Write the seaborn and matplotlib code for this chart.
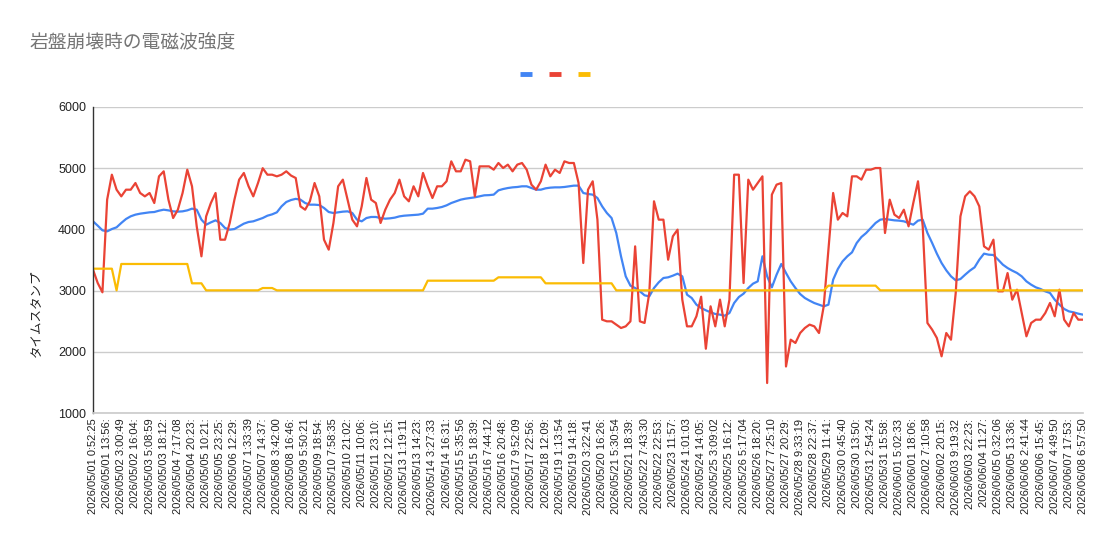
import numpy as np
import pandas as pd
import matplotlib
matplotlib.use("Agg")
import matplotlib.pyplot as plt
from matplotlib.lines import Line2D
import seaborn as sns

title = "岩盤崩壊時の電磁波強度"
y_label = "タイムスタンプ"

tick_labels = [
    "2026/05/01 0:52:25", "2026/05/01 13:56:", "2026/05/02 3:00:49", "2026/05/02 16:04:",
    "2026/05/03 5:08:59", "2026/05/03 18:12:", "2026/05/04 7:17:08", "2026/05/04 20:23:",
    "2026/05/05 10:21:", "2026/05/05 23:25:", "2026/05/06 12:29:", "2026/05/07 1:33:39",
    "2026/05/07 14:37:", "2026/05/08 3:42:00", "2026/05/08 16:46:", "2026/05/09 5:50:21",
    "2026/05/09 18:54:", "2026/05/10 7:58:35", "2026/05/10 21:02:", "2026/05/11 10:06:",
    "2026/05/11 23:10:", "2026/05/12 12:15:", "2026/05/13 1:19:11", "2026/05/13 14:23:",
    "2026/05/14 3:27:33", "2026/05/14 16:31:", "2026/05/15 5:35:56", "2026/05/15 18:39:",
    "2026/05/16 7:44:12", "2026/05/16 20:48:", "2026/05/17 9:52:09", "2026/05/17 22:56:",
    "2026/05/18 12:09:", "2026/05/19 1:13:54", "2026/05/19 14:18:", "2026/05/20 3:22:41",
    "2026/05/20 16:26:", "2026/05/21 5:30:54", "2026/05/21 18:39:", "2026/05/22 7:43:30",
    "2026/05/22 22:53:", "2026/05/23 11:57:", "2026/05/24 1:01:03", "2026/05/24 14:05:",
    "2026/05/25 3:09:02", "2026/05/25 16:12:", "2026/05/26 5:17:04", "2026/05/26 18:20:",
    "2026/05/27 7:25:10", "2026/05/27 20:29:", "2026/05/28 9:33:19", "2026/05/28 22:37:",
    "2026/05/29 11:41:", "2026/05/30 0:45:40", "2026/05/30 13:50:", "2026/05/31 2:54:24",
    "2026/05/31 15:58:", "2026/06/01 5:02:33", "2026/06/01 18:06:", "2026/06/02 7:10:58",
    "2026/06/02 20:15:", "2026/06/03 9:19:32", "2026/06/03 22:23:", "2026/06/04 11:27:",
    "2026/06/05 0:32:06", "2026/06/05 13:36:", "2026/06/06 2:41:44", "2026/06/06 15:45:",
    "2026/06/07 4:49:50", "2026/06/07 17:53:", "2026/06/08 6:57:50",
]

blue_values = [
    4132, 4061, 3985, 3968, 4006, 4034, 4105, 4170, 4214, 4241, 4257, 4268, 4279, 4284, 4306,
    4322, 4311, 4295, 4290, 4295, 4311, 4339, 4322, 4159, 4077, 4115, 4148, 4105, 4023, 3996,
    4006, 4050, 4094, 4121, 4132, 4159, 4186, 4224, 4246, 4279, 4377, 4448, 4480, 4499, 4486,
    4431, 4404, 4404, 4398, 4350, 4284, 4268, 4279, 4290, 4295, 4268, 4159, 4132, 4186, 4203,
    4203, 4186, 4175, 4181, 4192, 4213, 4224, 4230, 4235, 4241, 4257, 4339, 4339, 4350, 4366,
    4393, 4431, 4459, 4486, 4502, 4513, 4524, 4540, 4557, 4560, 4568, 4638, 4660, 4676, 4687,
    4693, 4704, 4704, 4676, 4649, 4649, 4671, 4682, 4687, 4687, 4693, 4704, 4715, 4715, 4595,
    4578, 4568, 4513, 4377, 4268, 4186, 3941, 3560, 3233, 3081, 3042, 2988, 2923, 2906, 3042,
    3135, 3206, 3217, 3244, 3277, 3233, 2934, 2879, 2770, 2716, 2678, 2645, 2618, 2607, 2590,
    2634, 2797, 2895, 2950, 3042, 3113, 3151, 3560, 3233, 3053, 3260, 3435, 3288, 3151, 3042,
    2944, 2879, 2836, 2797, 2770, 2743, 2770, 3178, 3353, 3478, 3560, 3625, 3778, 3876, 3941,
    4023, 4105, 4159, 4170, 4159, 4148, 4143, 4132, 4105, 4077, 4143, 4159, 3941, 3778, 3604,
    3451, 3331, 3233, 3168, 3189, 3260, 3326, 3380, 3505, 3604, 3587, 3582, 3505, 3424, 3369,
    3326, 3288, 3233, 3151, 3097, 3053, 3026, 2988, 2961, 2852, 2770, 2700, 2661, 2645, 2623,
    2607,
]

red_values = [
    3342, 3124, 2972, 4486, 4894, 4649, 4540, 4649, 4649, 4758, 4595, 4540, 4595, 4431, 4867,
    4949, 4486, 4186, 4322, 4595, 4976, 4704, 4050, 3560, 4213, 4431, 4595, 3832, 3832, 4105,
    4486, 4813, 4922, 4704, 4540, 4758, 5000, 4894, 4894, 4867, 4894, 4949, 4880, 4840, 4377,
    4322, 4459, 4758, 4540, 3832, 3669, 4105, 4704, 4813, 4486, 4159, 4050, 4377, 4840, 4486,
    4431, 4105, 4322, 4486, 4595, 4813, 4540, 4459, 4704, 4540, 4922, 4704, 4513, 4704, 4704,
    4786, 5112, 4949, 4949, 5139, 5112, 4540, 5030, 5030, 5030, 4976, 5085, 5003, 5058, 4949,
    5058, 5085, 4976, 4731, 4649, 4786, 5058, 4867, 4976, 4922, 5112, 5085, 5085, 4758, 3451,
    4649, 4786, 4159, 2525, 2498, 2498, 2444, 2389, 2416, 2498, 3723, 2498, 2471, 2961, 4459,
    4159, 4159, 3505, 3887, 3996, 2852, 2416, 2416, 2580, 2900, 2050, 2743, 2416, 2852, 2416,
    2852, 4894, 4894, 3124, 4813, 4649, 4758, 4867, 1490, 4568, 4731, 4758, 1760, 2198, 2144,
    2307, 2389, 2444, 2416, 2307, 2743, 3669, 4595, 4159, 4268, 4213, 4867, 4867, 4813, 4976,
    4976, 5003, 5003, 3941, 4486, 4241, 4186, 4322, 4050, 4431, 4786, 4050, 2471, 2362, 2226,
    1926, 2307, 2198, 2961, 4213, 4540, 4622, 4540, 4377, 3723, 3669, 3832, 2988, 2988, 3287,
    2852, 3015, 2634, 2253, 2471, 2525, 2525, 2634, 2798, 2580, 3015, 2525, 2416, 2634, 2525,
    2525,
]

yellow_values = [
    3358, 3358, 3358, 3358, 3358, 3004, 3435, 3435, 3435, 3435, 3435, 3435, 3435, 3435, 3435,
    3435, 3435, 3435, 3435, 3435, 3435, 3119, 3119, 3119, 3004, 3004, 3004, 3004, 3004, 3004,
    3004, 3004, 3004, 3004, 3004, 3004, 3042, 3042, 3042, 3004, 3004, 3004, 3004, 3004, 3004,
    3004, 3004, 3004, 3004, 3004, 3004, 3004, 3004, 3004, 3004, 3004, 3004, 3004, 3004, 3004,
    3004, 3004, 3004, 3004, 3004, 3004, 3004, 3004, 3004, 3004, 3004, 3162, 3162, 3162, 3162,
    3162, 3162, 3162, 3162, 3162, 3162, 3162, 3162, 3162, 3162, 3162, 3217, 3217, 3217, 3217,
    3217, 3217, 3217, 3217, 3217, 3217, 3119, 3119, 3119, 3119, 3119, 3119, 3119, 3119, 3119,
    3119, 3119, 3119, 3119, 3119, 3119, 3004, 3004, 3004, 3004, 3004, 3004, 3004, 3004, 3004,
    3004, 3004, 3004, 3004, 3004, 3004, 3004, 3004, 3004, 3004, 3004, 3004, 3004, 3004, 3004,
    3004, 3004, 3004, 3004, 3004, 3004, 3004, 3004, 3004, 3004, 3004, 3004, 3004, 3004, 3004,
    3004, 3004, 3004, 3004, 3004, 3004, 3081, 3081, 3081, 3081, 3081, 3081, 3081, 3081, 3081,
    3081, 3081, 3004, 3004, 3004, 3004, 3004, 3004, 3004, 3004, 3004, 3004, 3004, 3004, 3004,
    3004, 3004, 3004, 3004, 3004, 3004, 3004, 3004, 3004, 3004, 3004, 3004, 3004, 3004, 3004,
    3004, 3004, 3004, 3004, 3004, 3004, 3004, 3004, 3004, 3004, 3004, 3004, 3004, 3004, 3004,
    3004,
]

series_names = ["blue", "red", "yellow"]
series_colors = ["#4285F4", "#EA4335", "#FBBC04"]

n = len(red_values)
idx = np.arange(n)
df = pd.DataFrame({"idx": idx, "blue": blue_values, "red": red_values, "yellow": yellow_values})
long = df.melt(id_vars="idx", var_name="series", value_name="value")

sns.set_theme(style="white")
plt.rcParams["font.family"] = ["Liberation Sans", "Noto Sans CJK JP", "DejaVu Sans"]

fig = plt.figure(figsize=(11.11, 5.53), dpi=100)
ax = fig.add_axes([93 / 1111, 1 - 413 / 553, 990 / 1111, 306 / 553])

sns.lineplot(data=long, x="idx", y="value", hue="series", hue_order=series_names,
             palette=dict(zip(series_names, series_colors)), linewidth=1.6,
             legend=False, ax=ax)

ax.set_xlim(0, n - 1)
ax.set_ylim(1000, 6000)
ax.set_yticks([1000, 2000, 3000, 4000, 5000, 6000])
ax.set_yticklabels(["1000", "2000", "3000", "4000", "5000", "6000"], fontsize=9, color="#222222")
step = (n - 1) // (len(tick_labels) - 1)
ax.set_xticks(idx[::step])
ax.set_xticklabels(tick_labels, rotation=90, fontsize=8, color="#222222")
ax.tick_params(axis="y", length=0, pad=5)
ax.tick_params(axis="x", length=0, pad=4)
ax.set_xlabel("")
ax.set_ylabel("")

ax.yaxis.grid(True, color="#cccccc", linewidth=1)
ax.xaxis.grid(False)
ax.set_axisbelow(True)
for s in ["top", "right"]:
    ax.spines[s].set_visible(False)
ax.spines["bottom"].set_color("#cccccc")
ax.spines["left"].set_color("#333333")
ax.spines["left"].set_linewidth(1)

fig.text(30 / 1111, 1 - 42 / 553, title, fontsize=13.5, color="#757575",
         family=["Noto Sans CJK JP"], ha="left", va="center")
fig.text(35 / 1111, 1 - 313 / 553, y_label, fontsize=9, color="#222222",
         family=["Noto Sans CJK JP"], rotation=90, ha="center", va="center")

handles = [Line2D([0], [0], color=c, linewidth=3.5, solid_capstyle="butt") for c in series_colors]
fig.legend(handles, ["", "", ""], ncol=3, loc="center",
           bbox_to_anchor=(555 / 1111, 1 - 75 / 553), frameon=False,
           handlelength=0.9, handletextpad=0.0, columnspacing=1.2, fontsize=10)

fig.savefig("out.png", dpi=100, facecolor="white")
